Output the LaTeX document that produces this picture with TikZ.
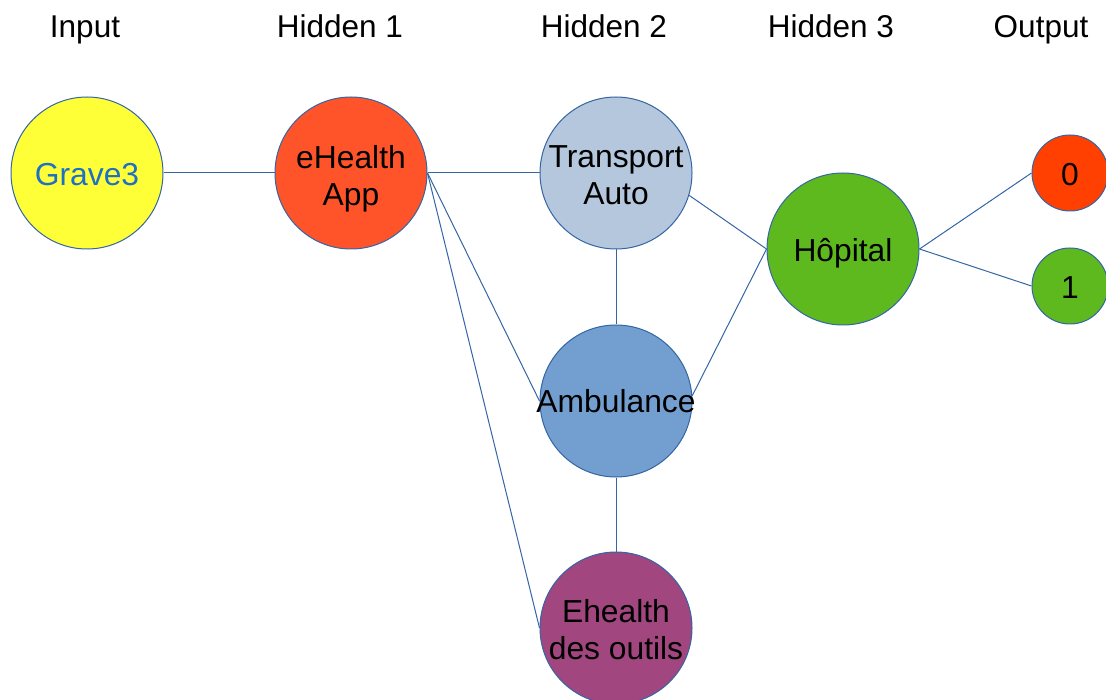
\documentclass[tikz,border=0pt]{standalone}
\usepackage{fontspec}
\setmainfont{Liberation Sans}
\definecolor{edgeblue}{HTML}{3465A4}
\definecolor{inputfill}{HTML}{FFFF38}
\definecolor{inputtext}{HTML}{1F6FC5}
\definecolor{appfill}{HTML}{FF5429}
\definecolor{transfill}{HTML}{B4C7DC}
\definecolor{ambfill}{HTML}{729FCF}
\definecolor{toolfill}{HTML}{A1467E}
\definecolor{hopfill}{HTML}{5EB91E}
\definecolor{zerofill}{HTML}{FF4000}
\begin{document}
\begin{tikzpicture}[x=1pt,y=-1pt,
  neuron/.style={circle, draw=edgeblue, line width=1pt, inner sep=0pt, minimum size=152pt},
  small/.style={neuron, minimum size=76pt},
  caption/.style={font=\fontsize{31.8}{37}\selectfont, align=center, inner sep=0pt, text depth=0pt},
  heading/.style={font=\fontsize{31.5}{37}\selectfont, inner sep=0pt, anchor=base},
  link/.style={draw=edgeblue, line width=1pt}]
\useasboundingbox (0,0) rectangle (1106,700);

% layer headings
\node[heading] (hIn) at (85,37.5) {Input};
\node[heading] (hH1) at (340,37.5) {Hidden 1};
\node[heading] (hH2) at (604,37.5) {Hidden 2};
\node[heading] (hH3) at (831,37.5) {Hidden 3};
\node[heading] (hOut) at (1041,37.5) {Output};

% neurons
\node[neuron, fill=inputfill] (g) at (87,173) {};
\node[neuron, fill=appfill] (eh) at (351,173) {};
\node[neuron, fill=transfill] (tr) at (616,173) {};
\node[neuron, fill=ambfill] (amb) at (616,401) {};
\node[neuron, fill=toolfill] (ehd) at (616,628) {};
\node[neuron, fill=hopfill] (hop) at (843,249) {};
\node[small, fill=zerofill] (o0) at (1070,173) {};
\node[small, fill=hopfill] (o1) at (1070,286) {};

% labels
\node[caption, text=inputtext] (tg) at (87,174) {Grave3};
\node[caption] (teh) at (351,175) {eHealth\\App};
\node[caption] (ttr) at (616,175) {Transport\\Auto};
\node[caption] (tamb) at (616,401) {Ambulance};
\node[caption] (tehd) at (616,629) {Ehealth\\des outils};
\node[caption] (thop) at (843,250) {Hôpital};
\node[caption] (to0) at (1070,174) {0};
\node[caption] (to1) at (1070,288) {1};

% connections
\draw[link] (g.east) -- (eh.west);
\draw[link] (eh.east) -- (tr.west);
\draw[link] (eh.east) -- (amb.west);
\draw[link] (eh.east) -- (ehd.west);
\draw[link] (tr.south) -- (amb.north);
\draw[link] (amb.south) -- (ehd.north);
\draw[link] (tr.-17) -- (hop.west);
\draw[link] (amb.4) -- (hop.west);
\draw[link] (hop.east) -- (o0.west);
\draw[link] (hop.east) -- (o1.west);
\end{tikzpicture}
\end{document}
